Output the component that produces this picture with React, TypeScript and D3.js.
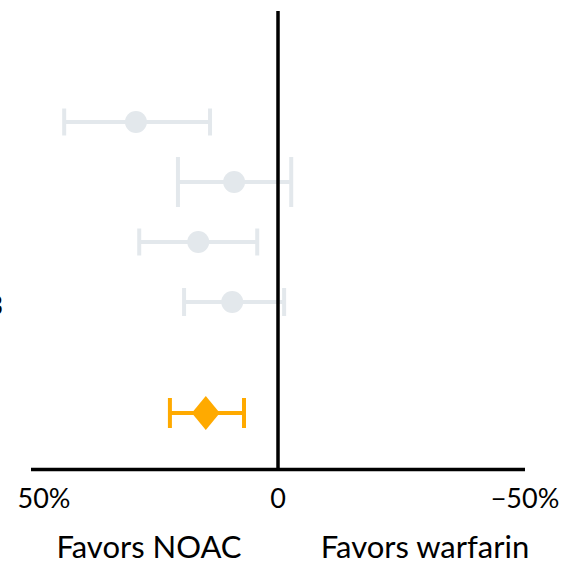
import * as d3 from "d3";

// rows top-to-bottom: point estimate, lower / upper bound (percent reduction)
const studies = ["s1", "s2", "s3", "s4"];
const estimates = [30.1, 9.3, 16.9, 9.7];
const lows = [45.3, 21.2, 29.4, 19.9];
const highs = [14.4, -2.8, 4.4, -1.3];
const pooled = { est: 15.3, low: 22.9, high: 7.2 };
const tickValues = [50, 0, -50];
const tickLabels = ["50%", "0", "\u221250%"];
const sideLabels = ["Favors NOAC", "Favors warfarin"];

const W = 563;
const H = 565;
const font = "Lato, 'Open Sans', sans-serif";
const grey = "#E3E8EC";
const orange = "#FFAA00";

export default function App() {
  const x = d3.scaleLinear().domain([50, -50]).range([42, 514]);
  const y = d3.scalePoint().domain(studies).range([122, 302]);
  const pooledY = 413;
  const capH = [27, 50, 27, 28];

  const diamond = (cx: number, c: number) =>
    `M${cx - 14},${c} L${cx},${c - 17} L${cx + 14},${c} L${cx},${c + 17} Z`;

  return (
    <svg
      width={W}
      height={H}
      style={{ position: "absolute", left: 0, top: 0, background: "#fff" }}
    >
      {/* cut-off label at the left edge */}
      <text x={3} y={315} textAnchor="end" fontFamily={font} fontSize={26}>
        3
      </text>

      {studies.map((s, i) => {
        const c = y(s) as number;
        return (
          <g key={s}>
            <line x1={x(lows[i])} x2={x(highs[i])} y1={c} y2={c} stroke={grey} strokeWidth={4} />
            <line x1={x(lows[i])} x2={x(lows[i])} y1={c - capH[i] / 2} y2={c + capH[i] / 2} stroke={grey} strokeWidth={4} />
            <line x1={x(highs[i])} x2={x(highs[i])} y1={c - capH[i] / 2} y2={c + capH[i] / 2} stroke={grey} strokeWidth={4} />
            <circle cx={x(estimates[i])} cy={c} r={11} fill={grey} />
          </g>
        );
      })}

      <g>
        <line x1={x(pooled.low)} x2={x(pooled.high)} y1={pooledY} y2={pooledY} stroke={orange} strokeWidth={4} />
        <line x1={x(pooled.low)} x2={x(pooled.low)} y1={pooledY - 15} y2={pooledY + 15} stroke={orange} strokeWidth={4} />
        <line x1={x(pooled.high)} x2={x(pooled.high)} y1={pooledY - 15} y2={pooledY + 15} stroke={orange} strokeWidth={4} />
        <path d={diamond(x(pooled.est), pooledY)} fill={orange} />
      </g>

      <line x1={x(0)} x2={x(0)} y1={11} y2={469} stroke="#000" strokeWidth={3.5} />
      <line x1={31} x2={525} y1={469.5} y2={469.5} stroke="#000" strokeWidth={3.5} />

      {tickValues.map((v, i) => (
        <text
          key={v}
          x={i === 0 ? 44 : i === 2 ? 525 : x(v)}
          y={508}
          textAnchor="middle"
          fontFamily={font}
          fontSize={27}
        >
          {tickLabels[i]}
        </text>
      ))}

      <text x={149} y={558} textAnchor="middle" fontFamily={font} fontSize={31}>
        {sideLabels[0]}
      </text>
      <text x={425} y={558} textAnchor="middle" fontFamily={font} fontSize={31}>
        {sideLabels[1]}
      </text>
    </svg>
  );
}
